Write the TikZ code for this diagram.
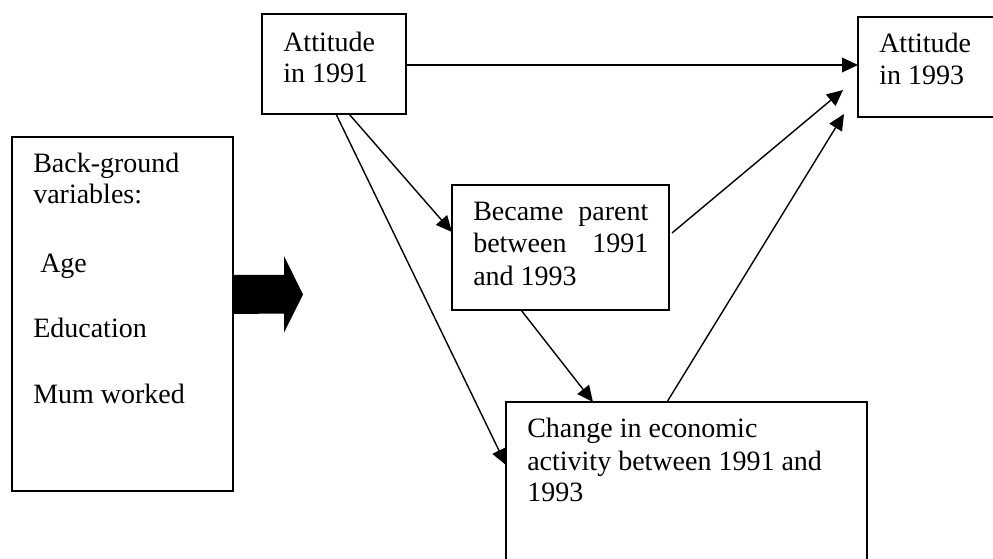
\documentclass[tikz,border=0pt]{standalone}
\usepackage{fontspec}
\setmainfont{Liberation Serif}
\usetikzlibrary{arrows.meta,calc,fit}
\begin{document}
\begin{tikzpicture}[x=0.75pt,y=-0.75pt,
  box/.style={draw, line width=1.3pt, rectangle, inner sep=0pt, outer sep=0pt},
  lbl/.style={anchor=base west, inner sep=0pt, font=\fontsize{21}{24}\selectfont},
  link/.style={line width=1.05pt, -{Triangle[length=12pt,width=11pt]}},
]
\clip (0,0) rectangle (993,559);
\fill[white] (0,0) rectangle (993,559);

% boxes
\node[box, fit={(262,14) (406,114)}] (a91) {};
\node[box, fit={(858,17) (1010,117)}] (a93) {};
\node[box, fit={(12,137) (233,491)}] (bg) {};
\node[box, fit={(452,185) (669,310)}] (par) {};
\node[box, fit={(506,402) (867,580)}] (chg) {};

% texts
\node[lbl] (a91a) at (283,52) {Attitude};
\node[lbl] (a91b) at (283,83) {in 1991};
\node[lbl] (a93a) at (879,53) {Attitude};
\node[lbl] (a93b) at (879,85) {in 1993};
\node[lbl] (bg1) at (33,173) {Back-ground};
\node[lbl] (bg2) at (33,204) {variables:};
\node[lbl] (bg3) at (40,273) {Age};
\node[lbl] (bg4) at (33,338) {Education};
\node[lbl] (bg5) at (33,404) {Mum worked};
\node[lbl] (par1) at (473,221) {\makebox[131.25pt][s]{Became parent}};
\node[lbl] (par2) at (473,253) {\makebox[131.25pt][s]{between 1991}};
\node[lbl] (par3) at (473,286) {and 1993};
\node[lbl] (chg1) at (527,438) {Change in economic};
\node[lbl] (chg2) at (527,471) {activity between 1991 and};
\node[lbl] (chg3) at (527,502) {1993};

% block arrow from the background variables
\coordinate (bt) at (bg.east |- 0,294.5);
\fill ($(bt)+(0,-19.5)$) -- ++(51,0) -- ++(0,-19) -- ($(bt)+(70,0)$)
      -- ($(bt)+(51,38)$) -- ++(0,-19) -- ($(bt)+(0,19.5)$) -- cycle;

% connectors
\draw[link] (a91.east |- 0,65) -- (a93.west |- 0,65);
\draw[link] ($(a91.south)+(15,0)$) -- ($(par.north west)+(0,47)$);
\draw[link] ($(a91.south)+(2,0)$) -- ($(chg.north west)+(0,63)$);
\draw[link] ($(par.south west)+(69,0)$) -- ($(chg.north west)+(87,0)$);
\draw[link] ($(par.north east)+(3,48)$) -- ($(a93.north west)+(-15,73)$);
\draw[link] ($(chg.north west)+(161,0)$) -- ($(a93.south west)+(-14,-3)$);
\end{tikzpicture}
\end{document}
